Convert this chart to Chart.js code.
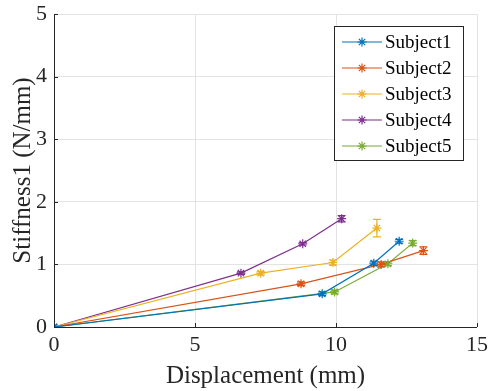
<!DOCTYPE html>
<html>
<head>
<meta charset="utf-8">
<script src="https://cdn.jsdelivr.net/npm/chart.js@4.4.0/dist/chart.umd.min.js"></script>
<style>
  html, body { margin: 0; padding: 0; background: #fff; }
  #wrap { width: 488px; height: 391px; position: relative; }
</style>
</head>
<body>
<div id="wrap"><canvas id="c"></canvas></div>
<script>
// valeurs
const subjectNames = ['Subject1', 'Subject2', 'Subject3', 'Subject4', 'Subject5'];
const subjectColors = ['#0072BD', '#D95319', '#EDB120', '#7E2F8E', '#77AC30'];

const dispS1 = [0, 9.51, 11.34, 12.24];
const stiffS1 = [0, 0.53, 1.02, 1.37];
const errS1 = [0, 0.03, 0.03, 0.03];

const dispS2 = [0, 8.76, 11.6, 13.1];
const stiffS2 = [0, 0.69, 1.0, 1.22];
const errS2 = [0, 0.03, 0.04, 0.06];

const dispS3 = [0, 7.33, 9.89, 11.45];
const stiffS3 = [0, 0.86, 1.03, 1.58];
const errS3 = [0, 0.03, 0.04, 0.14];

const dispS4 = [0, 6.63, 8.82, 10.2];
const stiffS4 = [0, 0.86, 1.33, 1.73];
const errS4 = [0, 0.02, 0.02, 0.05];

const dispS5 = [0, 9.95, 11.84, 12.72];
const stiffS5 = [0, 0.56, 1.01, 1.34];
const errS5 = [0, 0.03, 0.03, 0.04];

const xTicks = [0, 5, 10, 15];
const yTicks = [0, 1, 2, 3, 4, 5];

const allDisp = [dispS1, dispS2, dispS3, dispS4, dispS5];
const allStiff = [stiffS1, stiffS2, stiffS3, stiffS4, stiffS5];
const allErr = [errS1, errS2, errS3, errS4, errS5];

const police = '"Liberation Serif", "DejaVu Serif", serif';

const datasets = subjectNames.map((nom, i) => ({
  label: nom,
  data: allDisp[i].map((x, k) => ({ x: x, y: allStiff[i][k], e: allErr[i][k] })),
  borderColor: subjectColors[i],
  backgroundColor: subjectColors[i],
  borderWidth: 1.2,
  pointStyle: 'star',
  pointRadius: 4.5,
  pointBorderWidth: 1.2,
  showLine: true,
  tension: 0
}));

// barres d'erreur
const errorBars = {
  id: 'errorBars',
  afterDatasetsDraw(chart) {
    const ctx = chart.ctx;
    const xs = chart.scales.x, ys = chart.scales.y;
    ctx.save();
    chart.data.datasets.forEach(ds => {
      ctx.strokeStyle = ds.borderColor;
      ctx.lineWidth = 1.2;
      ds.data.forEach(p => {
        if (!p.e) return;
        const px = xs.getPixelForValue(p.x);
        const top = ys.getPixelForValue(p.y + p.e);
        const bot = ys.getPixelForValue(p.y - p.e);
        ctx.beginPath();
        ctx.moveTo(px, top); ctx.lineTo(px, bot);
        ctx.moveTo(px - 4, top); ctx.lineTo(px + 4, top);
        ctx.moveTo(px - 4, bot); ctx.lineTo(px + 4, bot);
        ctx.stroke();
      });
    });
    ctx.restore();
  }
};

// axes style matlab + légende encadrée
const cadre = {
  id: 'cadre',
  afterDraw(chart) {
    const ctx = chart.ctx;
    const a = chart.chartArea;
    const xs = chart.scales.x, ys = chart.scales.y;
    ctx.save();
    ctx.strokeStyle = '#262626';
    ctx.lineWidth = 1;
    ctx.beginPath();
    ctx.moveTo(a.left + 0.5, a.top);
    ctx.lineTo(a.left + 0.5, a.bottom + 0.5);
    ctx.lineTo(a.right, a.bottom + 0.5);
    xTicks.forEach(v => {
      const px = Math.round(xs.getPixelForValue(v)) + 0.5;
      ctx.moveTo(px, a.bottom);
      ctx.lineTo(px, a.bottom - 4);
    });
    yTicks.forEach(v => {
      const py = Math.round(ys.getPixelForValue(v)) + 0.5;
      ctx.moveTo(a.left, py);
      ctx.lineTo(a.left + 4, py);
    });
    ctx.stroke();

    // légende
    const bx = 334, by = 26, bw = 129, bh = 134;
    ctx.fillStyle = '#fff';
    ctx.fillRect(bx, by, bw, bh);
    ctx.strokeStyle = '#262626';
    ctx.strokeRect(bx + 0.5, by + 0.5, bw, bh);
    ctx.font = '19px ' + police;
    ctx.textBaseline = 'middle';
    subjectNames.forEach((nom, i) => {
      const y = by + 16 + i * 26;
      ctx.strokeStyle = subjectColors[i];
      ctx.lineWidth = 1.2;
      ctx.beginPath();
      ctx.moveTo(342, y); ctx.lineTo(382, y);
      ctx.stroke();
      Chart.helpers.drawPoint(ctx, { pointStyle: 'star', radius: 4.5, borderWidth: 1.2 }, 362, y);
      ctx.fillStyle = '#000';
      ctx.fillText(nom, 385, y + 1);
    });
    ctx.restore();
  }
};

new Chart(document.getElementById('c'), {
  type: 'scatter',
  data: { datasets: datasets },
  plugins: [errorBars, cadre],
  options: {
    responsive: true,
    maintainAspectRatio: false,
    animation: false,
    layout: { padding: { top: 14, right: 11, left: 0, bottom: 0 } },
    plugins: {
      legend: { display: false },
      tooltip: { enabled: false }
    },
    scales: {
      x: {
        type: 'linear',
        min: 0, max: 15,
        afterBuildTicks: s => { s.ticks = xTicks.map(v => ({ value: v })); },
        afterFit: s => { s.height = 64; s.paddingLeft = 0; s.paddingRight = 0; },
        grid: { color: '#e3e3e3', drawTicks: false },
        border: { display: false },
        ticks: { color: '#262626', font: { family: police, size: 22 }, padding: 5, maxRotation: 0 },
        title: { display: true, text: 'Displacement (mm)', color: '#262626', font: { family: police, size: 25 }, padding: { top: 0, bottom: 0 } }
      },
      y: {
        type: 'linear',
        min: 0, max: 5,
        afterBuildTicks: s => { s.ticks = yTicks.map(v => ({ value: v })); },
        afterFit: s => { s.width = 54; s.paddingTop = 0; s.paddingBottom = 0; },
        grid: { color: '#e3e3e3', drawTicks: false },
        border: { display: false },
        ticks: { color: '#262626', font: { family: police, size: 22 }, padding: 7 },
        title: { display: true, text: 'Stiffness1 (N/mm)', color: '#262626', font: { family: police, size: 25 }, padding: { top: 8, bottom: 0 } }
      }
    }
  }
});
</script>
</body>
</html>
